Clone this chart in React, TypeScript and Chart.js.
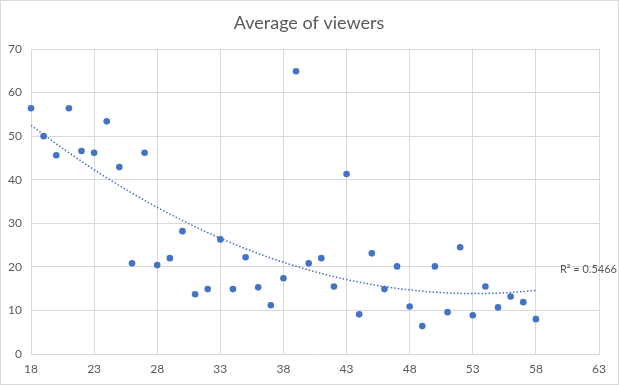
import { useEffect, useRef } from "react";
import { Chart, registerables } from "chart.js";
Chart.register(...registerables);

const ages = [18, 19, 20, 21, 22, 23, 24, 25, 26, 27, 28, 29, 30, 31, 32, 33, 34, 35, 36, 37, 38, 39, 40, 41, 42, 43, 44, 45, 46, 47, 48, 49, 50, 51, 52, 53, 54, 55, 56, 57, 58];
const viewers = [56.4, 50.0, 45.6, 56.4, 46.6, 46.2, 53.4, 42.9, 20.8, 46.2, 20.4, 22.0, 28.2, 13.7, 14.9, 26.3, 14.9, 22.2, 15.3, 11.2, 17.4, 64.9, 20.8, 22.0, 15.5, 41.3, 9.1, 23.1, 14.9, 20.1, 10.9, 6.4, 20.1, 9.6, 24.5, 8.9, 15.5, 10.7, 13.2, 11.9, 8.0];
const xTickMin = 18;
const xTickMax = 63;
const xTickStep = 5;
const yTickMin = 0;
const yTickMax = 70;
const yTickStep = 10;
const titleText = "Average of viewers";
const r2Label = "R² = 0.5466";

// quadratic least-squares trendline (as Excel's polynomial order 2 trendline)
function quadFit(xs: number[], ys: number[]) {
  let s0 = 0, s1 = 0, s2 = 0, s3 = 0, s4 = 0, t0 = 0, t1 = 0, t2 = 0;
  for (let i = 0; i < xs.length; i++) {
    const x = xs[i], y = ys[i];
    s0 += 1; s1 += x; s2 += x * x; s3 += x * x * x; s4 += x * x * x * x;
    t0 += y; t1 += x * y; t2 += x * x * y;
  }
  const M = [
    [s0, s1, s2, t0],
    [s1, s2, s3, t1],
    [s2, s3, s4, t2],
  ];
  for (let c = 0; c < 3; c++) {
    let p = c;
    for (let r = c + 1; r < 3; r++) if (Math.abs(M[r][c]) > Math.abs(M[p][c])) p = r;
    [M[c], M[p]] = [M[p], M[c]];
    for (let r = 0; r < 3; r++) {
      if (r === c) continue;
      const f = M[r][c] / M[c][c];
      for (let k = c; k < 4; k++) M[r][k] -= f * M[c][k];
    }
  }
  const a = M[0][3] / M[0][0], b = M[1][3] / M[1][1], c2 = M[2][3] / M[2][2];
  return (x: number) => a + b * x + c2 * x * x;
}

export default function App() {
  const ref = useRef<HTMLCanvasElement | null>(null);
  useEffect(() => {
    document.body.style.margin = "0";
    const fit = quadFit(ages, viewers);
    const trend: { x: number; y: number }[] = [];
    const x0 = ages[0], x1 = ages[ages.length - 1];
    for (let i = 0; i <= 80; i++) {
      const x = x0 + ((x1 - x0) * i) / 80;
      trend.push({ x, y: fit(x) });
    }
    const deco = {
      id: "deco",
      afterDraw(chart: any) {
        const ctx = chart.ctx;
        ctx.save();
        ctx.strokeStyle = "#d9d9d9";
        ctx.lineWidth = 1;
        ctx.strokeRect(0.5, 0.5, chart.width - 1, chart.height - 1);
        ctx.fillStyle = "#595959";
        ctx.font = "18px Lato";
        ctx.textAlign = "center";
        ctx.textBaseline = "alphabetic";
        ctx.fillText(titleText, 309, 29);
        const xs = chart.scales.x, ys = chart.scales.y;
        ctx.font = "11px Lato";
        ctx.textAlign = "left";
        ctx.textBaseline = "middle";
        ctx.fillText(r2Label, xs.getPixelForValue(x1) + 24, ys.getPixelForValue(fit(x1)) - 21);
        ctx.restore();
      },
    };
    const chart = new Chart(ref.current!, {
      type: "scatter",
      data: {
        datasets: [
          {
            label: "viewers",
            data: ages.map((a, i) => ({ x: a, y: viewers[i] })),
            backgroundColor: "#4472C4",
            borderColor: "#4472C4",
            pointRadius: 3.3,
            pointBorderWidth: 0,
            clip: false,
            order: 1,
          } as any,
          {
            type: "line",
            label: "trend",
            data: trend,
            borderColor: "#4472C4",
            borderWidth: 1.5,
            borderDash: [1.5, 2],
            pointRadius: 0,
            fill: false,
            order: 2,
          } as any,
        ],
      },
      options: {
        responsive: false,
        animation: false,
        layout: { padding: { left: 0, right: 20, top: 49, bottom: 0 } },
        plugins: { legend: { display: false }, tooltip: { enabled: false }, title: { display: false } },
        scales: {
          x: {
            type: "linear",
            min: xTickMin,
            max: xTickMax,
            ticks: { stepSize: xTickStep, color: "#595959", font: { family: "Lato", size: 12 }, padding: 8, maxRotation: 0 },
            grid: { color: "#d9d9d9", drawTicks: false },
            border: { color: "#d9d9d9" },
            afterFit: (s: any) => { s.height = 31; },
          },
          y: {
            type: "linear",
            min: yTickMin,
            max: yTickMax,
            ticks: { stepSize: yTickStep, color: "#595959", font: { family: "Lato", size: 12 }, padding: 9 },
            grid: { color: "#d9d9d9", drawTicks: false },
            border: { color: "#d9d9d9" },
            afterFit: (s: any) => { s.width = 31; },
          },
        },
      },
      plugins: [deco],
    });
    return () => chart.destroy();
  }, []);
  return (
    <div style={{ position: "absolute", left: 0, top: 0, width: 619, height: 385 }}>
      <canvas ref={ref} width={619} height={385} />
    </div>
  );
}
